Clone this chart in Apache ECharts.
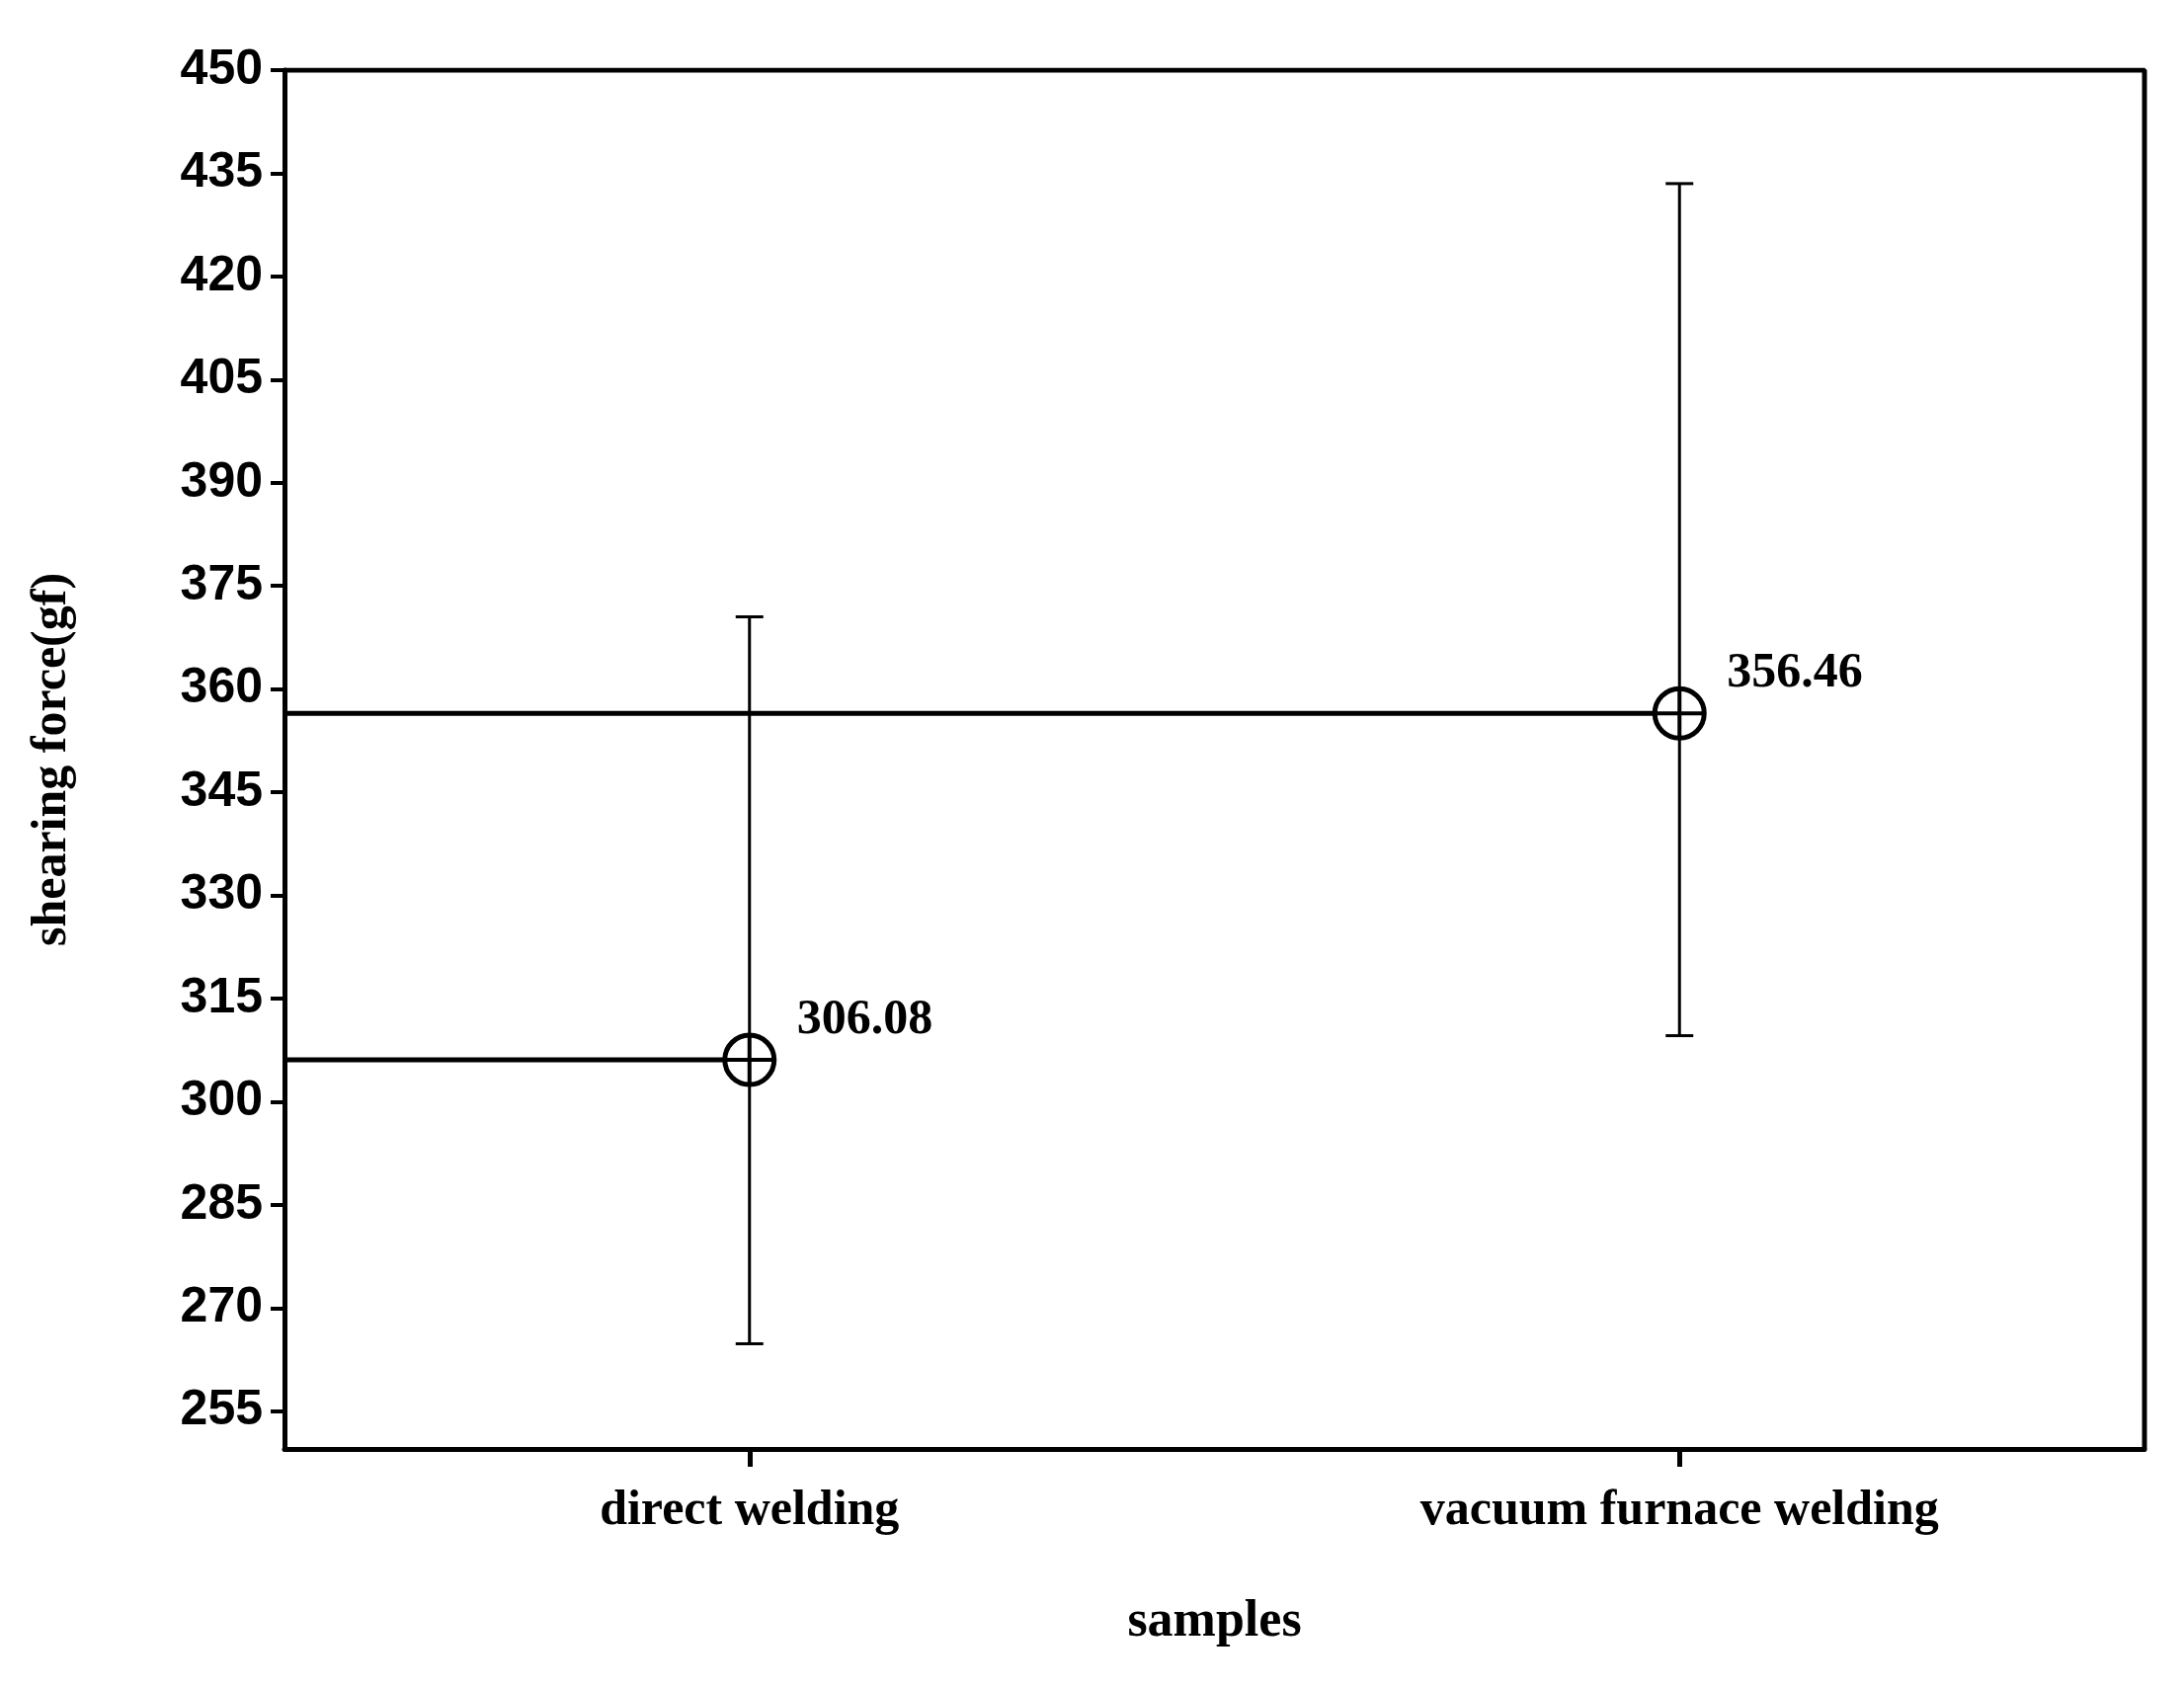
<!DOCTYPE html>
<html>
<head>
<meta charset="utf-8">
<script src="https://cdn.jsdelivr.net/npm/echarts@6/dist/echarts.min.js"></script>
<style>html,body{margin:0;background:#fff}#chart{width:2211px;height:1709px}</style>
</head>
<body>
<div id="chart"></div>
<script>
// samples on the x axis, placed at 0.5 and 1.5 of a 0..2 value axis
var categories = ['direct welding', 'vacuum furnace welding'];
var catPos = [0.5, 1.5];
var means = [306.08, 356.46];
var errLow = [264.8, 309.6];
var errHigh = [370.5, 433.5];
var yTicks = [255, 270, 285, 300, 315, 330, 345, 360, 375, 390, 405, 420, 435, 450];

var chart = echarts.init(document.getElementById('chart'));
var serif = "'Liberation Serif','DejaVu Serif',serif";

var data = [];
for (var i = 0; i < categories.length; i++) {
    data.push([catPos[i], means[i], errLow[i], errHigh[i]]);
}

function renderItem(params, api) {
    var x = api.value(0), m = api.value(1);
    var p = api.coord([x, m]);
    var lo = api.coord([x, api.value(2)]);
    var hi = api.coord([x, api.value(3)]);
    var left = api.coord([0, m]);
    var cap = 14, r = 25;
    var st = {stroke: '#000', lineWidth: 3};
    var thick = {stroke: '#000', lineWidth: 5, fill: null};
    return {
        type: 'group',
        children: [
            {type: 'line', shape: {x1: p[0], y1: hi[1], x2: p[0], y2: lo[1]}, style: st},
            {type: 'line', shape: {x1: p[0] - cap, y1: hi[1], x2: p[0] + cap, y2: hi[1]}, style: st},
            {type: 'line', shape: {x1: p[0] - cap, y1: lo[1], x2: p[0] + cap, y2: lo[1]}, style: st},
            {type: 'line', shape: {x1: left[0], y1: p[1], x2: p[0] - r, y2: p[1]}, style: thick},
            {type: 'circle', shape: {cx: p[0], cy: p[1], r: r}, style: {stroke: '#000', lineWidth: 5, fill: '#fff'}},
            {type: 'line', shape: {x1: p[0] - r, y1: p[1], x2: p[0] + r, y2: p[1]}, style: {stroke: '#000', lineWidth: 4}},
            {type: 'line', shape: {x1: p[0], y1: p[1] - r, x2: p[0], y2: p[1] + r}, style: {stroke: '#000', lineWidth: 4}},
            {type: 'text', x: p[0] + 48, y: p[1] - 40, style: {
                text: api.value(1).toFixed(2), font: 'bold 50px ' + serif, fill: '#000',
                textAlign: 'left', textVerticalAlign: 'middle'}}
        ]
    };
}

var option = {
    animation: false,
    backgroundColor: '#fff',
    grid: {left: 288, right: 40, top: 71, bottom: 242},
    xAxis: {
        type: 'value', min: 0, max: 2,
        name: 'samples', nameLocation: 'middle', nameGap: 150,
        nameTextStyle: {fontFamily: serif, fontWeight: 'bold', fontSize: 52, color: '#000'},
        axisLine: {onZero: false, lineStyle: {color: '#000', width: 5}},
        axisTick: {customValues: catPos, length: 18, lineStyle: {width: 5, color: '#000'}},
        axisLabel: {customValues: catPos, margin: 38, fontFamily: serif, fontWeight: 'bold', fontSize: 50, color: '#000',
            formatter: function (v) { return categories[catPos.indexOf(v)] || ''; }},
        splitLine: {show: false}
    },
    yAxis: {
        type: 'value', min: 249.5, max: 450,
        name: 'shearing force(gf)', nameLocation: 'middle', nameGap: 210,
        nameTextStyle: {fontFamily: serif, fontWeight: 'bold', fontSize: 50, color: '#000'},
        axisLine: {show: true, lineStyle: {color: '#000', width: 5}},
        axisTick: {customValues: yTicks, length: 14, lineStyle: {width: 4, color: '#000'}},
        axisLabel: {customValues: yTicks, margin: 22, fontFamily: "'Liberation Sans',Arial,sans-serif",
            fontWeight: 'bold', fontSize: 50, color: '#000'},
        splitLine: {show: false}
    },
    series: [
        {type: 'custom', renderItem: renderItem, data: data, clip: false},
        // frame top and right
        {type: 'line', data: [[0, 450], [2, 450], [2, 249.5]], symbol: 'none',
            lineStyle: {color: '#000', width: 5}, silent: true}
    ]
};
chart.setOption(option);
</script>
</body>
</html>
